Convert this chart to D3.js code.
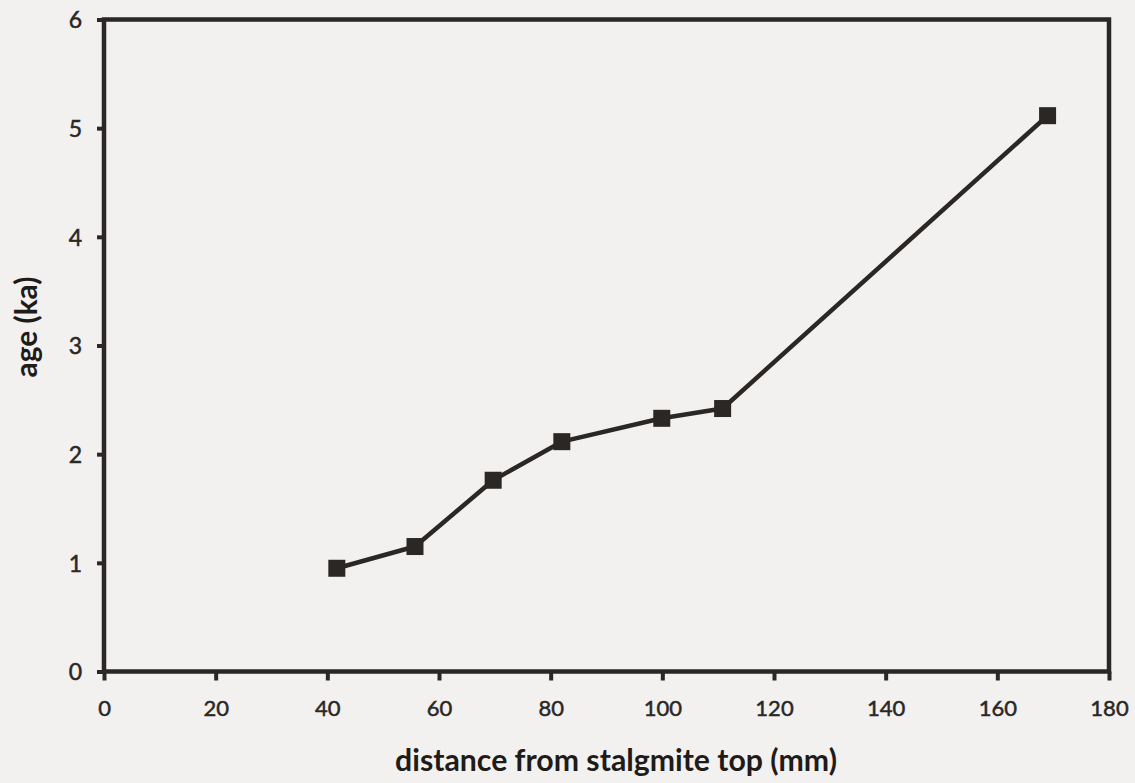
<!DOCTYPE html>
<html>
<head>
<meta charset="utf-8">
<script src="https://cdn.jsdelivr.net/npm/d3@7"></script>
<style>
  html, body { margin: 0; padding: 0; background: #f2f1f0; }
  svg { display: block; }
</style>
</head>
<body>
<svg id="chart" width="1135" height="783"></svg>
<script>
// ---- data ----
const distances = [41.7, 55.7, 69.7, 82.0, 99.9, 110.8, 169.0];   // mm from stalagmite top
const ages      = [0.95, 1.15, 1.76, 2.115, 2.33, 2.42, 5.115];   // ka
const xTicks = [0, 20, 40, 60, 80, 100, 120, 140, 160, 180];
const yTicks = [0, 1, 2, 3, 4, 5, 6];
const xTitle = "distance from stalgmite top (mm)";
const yTitle = "age (ka)";

(function () {
const ink = "#2a2725";
const svg = d3.select("#chart");
const W = 1135, H = 783;
const pLeft = 104, pRight = 1109, pTop = 19.5, pBottom = 671.5;
const font = "Lato, 'Open Sans', sans-serif";

const x = d3.scaleLinear().domain([0, 180]).range([pLeft, pRight]);
const y = d3.scaleLinear().domain([0, 6]).range([pBottom, pTop]);

svg.append("rect").attr("width", W).attr("height", H).attr("fill", "#f2f1f0");

// frame
svg.append("rect")
  .attr("x", pLeft).attr("y", pTop)
  .attr("width", pRight - pLeft).attr("height", pBottom - pTop)
  .attr("fill", "none").attr("stroke", ink).attr("stroke-width", 4.5);

// y axis
const yAxis = svg.append("g").attr("transform", `translate(${pLeft},0)`)
  .call(d3.axisLeft(y).tickValues(yTicks).tickSize(7).tickSizeOuter(0).tickPadding(15).tickFormat(d3.format("d")));
yAxis.select(".domain").remove();
yAxis.selectAll(".tick line").attr("stroke", ink).attr("stroke-width", 4);
yAxis.selectAll(".tick text")
  .attr("fill", ink).attr("font-family", font).attr("stroke", ink).attr("stroke-width", 0.5)
  .attr("font-size", 23).attr("dy", "0.36em");

// x axis
const xAxis = svg.append("g").attr("transform", `translate(0,${pBottom})`)
  .call(d3.axisBottom(x).tickValues(xTicks).tickSize(9).tickSizeOuter(0).tickFormat(d3.format("d")));
xAxis.select(".domain").remove();
xAxis.selectAll(".tick line").attr("stroke", ink).attr("stroke-width", 4);
xAxis.selectAll(".tick text")
  .attr("fill", ink).attr("font-family", font).attr("stroke", ink).attr("stroke-width", 0.5)
  .attr("font-size", 22).attr("y", 44).attr("dy", 0);

// line + markers
const pts = distances.map((d, i) => [d, ages[i]]);
svg.append("path")
  .datum(pts)
  .attr("d", d3.line().x(d => x(d[0])).y(d => y(d[1])))
  .attr("fill", "none").attr("stroke", ink).attr("stroke-width", 4.5)
  .attr("stroke-linejoin", "round");

const ms = 17;
svg.selectAll("rect.pt").data(pts).enter().append("rect")
  .attr("class", "pt")
  .attr("x", d => x(d[0]) - ms / 2).attr("y", d => y(d[1]) - ms / 2)
  .attr("width", ms).attr("height", ms).attr("fill", ink);

// titles (font size fitted to the widths in the reference)
function fit(sel, targetWidth) {
  const w = sel.node().getComputedTextLength();
  const fs = parseFloat(sel.attr("font-size"));
  sel.attr("font-size", fs * targetWidth / w);
}
const xt = svg.append("text")
  .attr("x", 616).attr("y", 771).attr("text-anchor", "middle")
  .attr("font-family", font).attr("font-weight", 700)
  .attr("font-size", 28).attr("fill", "#1f1b19").text(xTitle);
fit(xt, 442);

const yt = svg.append("text")
  .attr("transform", "translate(37,327) rotate(-90)").attr("text-anchor", "middle")
  .attr("font-family", font).attr("font-weight", 700)
  .attr("font-size", 28).attr("fill", "#1f1b19").text(yTitle);
fit(yt, 101);
})();
</script>
</body>
</html>
